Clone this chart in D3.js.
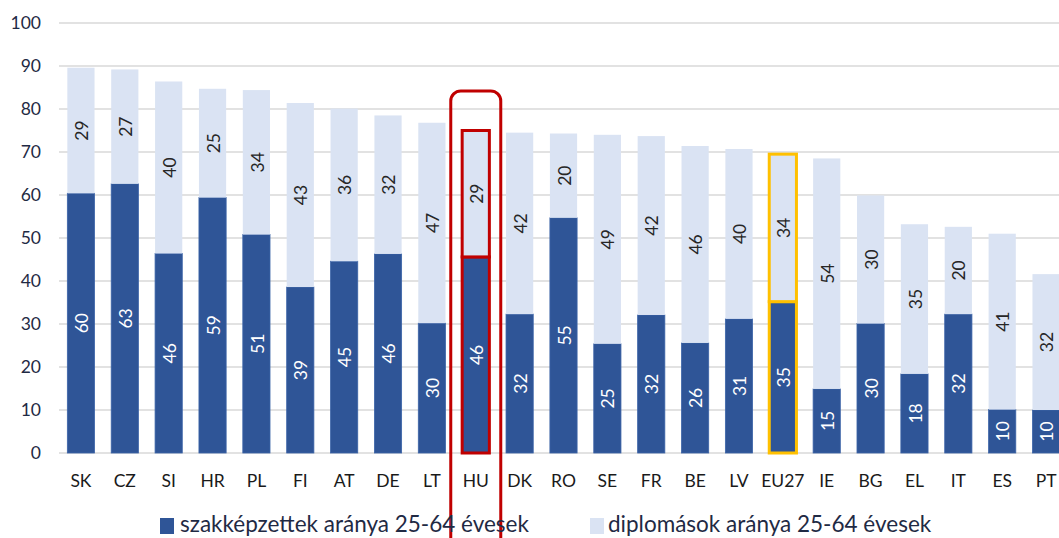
<!DOCTYPE html>
<html><head><meta charset="utf-8">
<script src="https://cdn.jsdelivr.net/npm/d3@7"></script>
<style>
html,body{margin:0;padding:0;background:#fff;overflow:hidden}
text{font-family:Lato,"Open Sans",sans-serif}
</style></head>
<body><svg id="c" width="1059" height="538"></svg>
<script>
const categories = ["SK","CZ","SI","HR","PL","FI","AT","DE","LT","HU","DK","RO","SE","FR","BE","LV","EU27","IE","BG","EL","IT","ES","PT"];
const vocational = [60.4,62.6,46.4,59.4,50.8,38.6,44.6,46.3,30.2,45.6,32.3,54.7,25.4,32.1,25.6,31.2,35.2,14.9,30.1,18.4,32.3,10.1,10.0];
const graduates  = [29.2,26.6,40.0,25.3,33.6,42.8,35.5,32.2,46.6,29.4,42.2,19.6,48.6,41.6,45.8,39.5,34.3,53.6,29.8,34.8,20.3,40.9,31.6];
const yTicks = [0,10,20,30,40,50,60,70,80,90,100];
const seriesNames = ["szakképzettek aránya 25-64 évesek","diplomások aránya 25-64 évesek"];
const highlightRed = "HU", highlightYellow = "EU27";

const svg = d3.select("#c");
const x = d3.scaleBand().domain(categories).range([59,1068]).paddingInner(0.38).paddingOuter(0.19);
const y = d3.scaleLinear().domain([0,100]).range([453,23]);
const dark="#2F5597", light="#DAE3F3";

svg.append("g").selectAll("line").data(yTicks).join("line")
  .attr("x1",59).attr("x2",1059).attr("y1",d=>y(d)).attr("y2",d=>y(d))
  .attr("stroke","#d9d9d9").attr("stroke-width",1.3);
svg.append("g").selectAll("text").data(yTicks).join("text")
  .attr("x",41).attr("y",d=>y(d)).attr("dy","0.35em").attr("text-anchor","end")
  .attr("font-size",17.5).attr("fill","#1f2a44").text(d=>d);

const data = categories.map((c,i)=>({c,v:vocational[i],g:graduates[i]}));
const bw = x.bandwidth();
const gBars = svg.append("g");
data.forEach(d=>{
  const x0 = x(d.c);
  let stroke = "none", sw=0;
  if(d.c===highlightRed){stroke="#C00000";sw=3;}
  if(d.c===highlightYellow){stroke="#FFC000";sw=3;}
  gBars.append("rect").attr("x",x0).attr("width",bw).attr("y",y(d.v)).attr("height",y(0)-y(d.v))
    .attr("fill",dark).attr("stroke",stroke==="none"?"#3c64a8":stroke).attr("stroke-width",sw||0.8);
  gBars.append("rect").attr("x",x0).attr("width",bw).attr("y",y(d.v+d.g)).attr("height",y(d.v)-y(d.v+d.g))
    .attr("fill",light).attr("stroke",stroke).attr("stroke-width",sw);
  const cx = x0+bw/2;
  const m1 = (y(0)+y(d.v))/2, m2=(y(d.v)+y(d.v+d.g))/2;
  gBars.append("text").attr("transform",`translate(${cx+1},${m1}) rotate(-90)`)
    .attr("text-anchor","middle").attr("dy","0.35em").attr("font-size",17.5).attr("fill","#fff").text(Math.round(d.v));
  gBars.append("text").attr("transform",`translate(${cx+1},${m2}) rotate(-90)`)
    .attr("text-anchor","middle").attr("dy","0.35em").attr("font-size",17.5).attr("fill","#262626").text(Math.round(d.g));
});
const hx = x(highlightRed)+bw/2;
svg.append("rect").attr("x",hx-25).attr("width",50).attr("y",y(84.2)).attr("height",480)
  .attr("rx",10).attr("fill","none").attr("stroke","#C00000").attr("stroke-width",3);

svg.append("g").selectAll("text").data(categories).join("text")
  .attr("x",d=>x(d)+bw/2).attr("y",487).attr("text-anchor","middle")
  .attr("font-size",17.5).attr("fill","#1a1a1a").text(d=>d);

const lg = svg.append("g");
lg.append("rect").attr("x",160).attr("y",518).attr("width",14).attr("height",16).attr("fill",dark);
lg.append("text").attr("x",180).attr("y",532).attr("font-size",22.5).attr("fill","#1f2a44").text(seriesNames[0]);
lg.append("rect").attr("x",590).attr("y",518).attr("width",14).attr("height",16).attr("fill",light);
lg.append("text").attr("x",608).attr("y",532).attr("font-size",22.5).attr("fill","#1f2a44").text(seriesNames[1]);
</script></body></html>
